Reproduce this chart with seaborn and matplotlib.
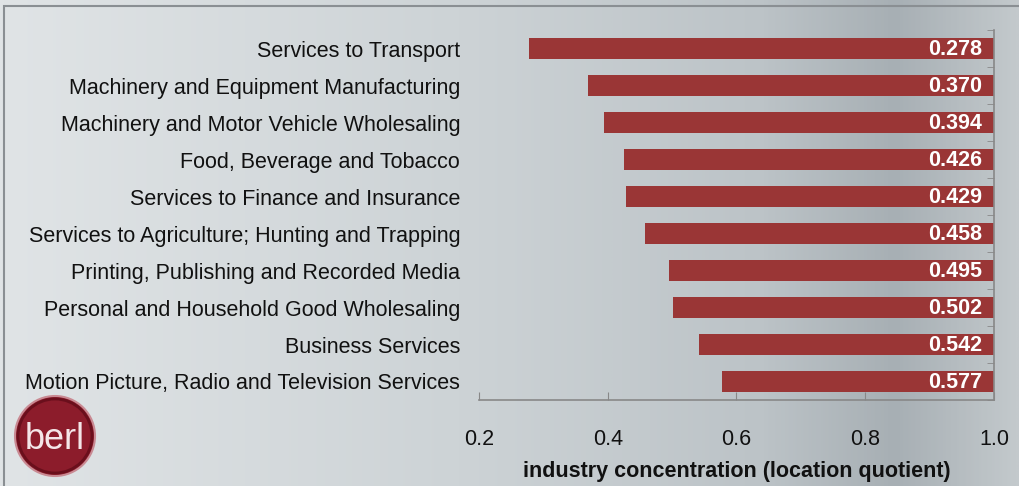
import numpy as np
import pandas as pd
import matplotlib
matplotlib.use("Agg")
import matplotlib.pyplot as plt
import seaborn as sns
from matplotlib.colors import LinearSegmentedColormap
from matplotlib.patches import Circle, Rectangle
from matplotlib.ticker import FixedLocator

industries = [
    "Services to Transport",
    "Machinery and Equipment Manufacturing",
    "Machinery and Motor Vehicle Wholesaling",
    "Food, Beverage and Tobacco",
    "Services to Finance and Insurance",
    "Services to Agriculture; Hunting and Trapping",
    "Printing, Publishing and Recorded Media",
    "Personal and Household Good Wholesaling",
    "Business Services",
    "Motion Picture, Radio and Television Services",
]
lq = [0.278, 0.370, 0.394, 0.426, 0.429, 0.458, 0.495, 0.502, 0.542, 0.577]
x_ticks = [0.2, 0.4, 0.6, 0.8, 1.0]
baseline = 1.0

df = pd.DataFrame({"industry": industries, "lq": lq})
df["gap"] = baseline - df["lq"]

sns.set_style("white")
plt.rcParams["font.family"] = ["Liberation Sans", "DejaVu Sans"]
txt = "#111111"

fig = plt.figure(figsize=(10.2, 4.86), dpi=100)

# gradient background
bg = fig.add_axes([0, 0, 1, 1], zorder=-10)
grad_cmap = LinearSegmentedColormap.from_list(
    "bg", [(0, "#e0e4e6"), (0.45, "#cdd3d6"), (0.75, "#bcc3c7"),
           (0.88, "#a7afb4"), (1.0, "#c3c9cc")])
g = np.tile(np.linspace(0, 1, 400), (50, 1))
bg.imshow(g, cmap=grad_cmap, aspect="auto", extent=[0, 1, 0, 1])
bg.set_axis_off()
fig.patches.append(Rectangle((0.004, -0.01), 1.0, 0.998, transform=fig.transFigure,
                             fill=False, edgecolor="#8a8f93", linewidth=1.5))

ax = fig.add_axes([0.4696, 0.177, 0.5049, 0.761])
ax.patch.set_alpha(0)
sns.barplot(data=df, x="gap", y="industry", color="#9a3636", width=0.55,
            saturation=1, ax=ax, orient="h", linewidth=0)
for p, v in zip(ax.patches, df["lq"]):
    p.set_x(v)

for i, v in enumerate(df["lq"]):
    ax.text(baseline - 0.018, i + 0.02, f"{v:.3f}", ha="right", va="center",
            color="white", fontsize=15.5, fontweight="bold")

ax.set_xlim(0.2, 1.0)
ax.set_ylim(9.5, -0.5)
ax.set_xticks(x_ticks)
ax.set_xticklabels([f"{t:.1f}" for t in x_ticks])
ax.yaxis.set_minor_locator(FixedLocator(np.arange(-0.5, 10, 1)))
ax.tick_params(axis="y", which="major", left=False, right=False, labelsize=15.5, pad=10,
               labelcolor=txt)
ax.tick_params(axis="y", which="minor", left=False, right=True, direction="in",
               length=5, color="#888888")
ax.tick_params(axis="x", direction="in", length=6, color="#888888", labelsize=15.5, pad=21,
               bottom=True, labelcolor=txt)
for s in ["left", "top"]:
    ax.spines[s].set_visible(False)
for s in ["right", "bottom"]:
    ax.spines[s].set_color("#888888")
    ax.spines[s].set_linewidth(1.2)
ax.set_ylabel("")
ax.set_xlabel("industry concentration (location quotient)", fontsize=15.5,
              fontweight="bold", labelpad=8, color=txt)

# logo
cx, cy = 0.55, (486 - 436) / 100
fig.patches.append(Circle((cx, cy), 0.40, transform=fig.dpi_scale_trans,
                          facecolor="#8c1c2b", edgecolor="#c98a93", linewidth=1.5))
fig.patches.append(Circle((cx, cy), 0.37, transform=fig.dpi_scale_trans,
                          facecolor="none", edgecolor="#6a0f1c", linewidth=2))
fig.text(cx / 10.2, (cy - 0.03) / 4.86, "berl", ha="center", va="center", color="#f4e6e8",
         fontsize=26)

fig.savefig("out.png", dpi=100)
